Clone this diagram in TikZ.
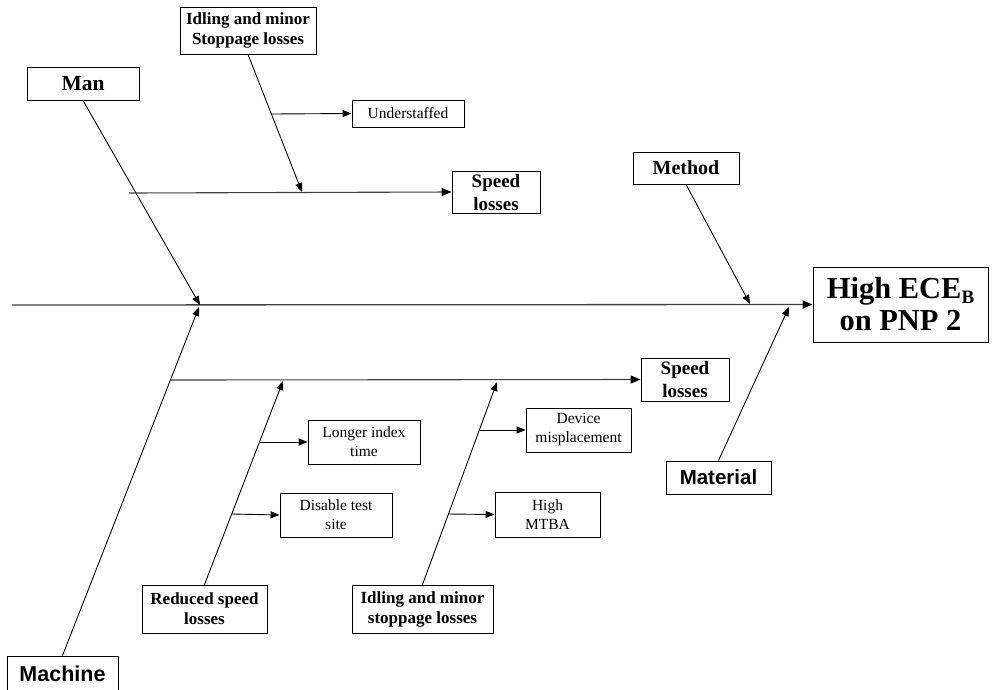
\documentclass[tikz,border=0pt]{standalone}
\usepackage{fontspec}
\setmainfont{Liberation Serif}
\newfontfamily\arialfont{Liberation Sans}
\usetikzlibrary{arrows.meta}

\tikzset{
  box/.style={draw=black, line width=0.9pt, fill=white, inner sep=0pt, align=center},
  serifbold/.style={font=\bfseries\fontsize{17}{20}\selectfont},
  small/.style={font=\fontsize{15.5}{19}\selectfont},
  sansbold/.style={font=\arialfont\bfseries\fontsize{20.5}{24}\selectfont},
  bone/.style={line width=0.9pt, -{Triangle[length=9pt,width=7pt]}},
  spine/.style={draw=black!75, line width=1.3pt, -{Triangle[length=10pt,width=8pt,color=black]}},
  twig/.style={line width=0.9pt, -{Triangle[length=9pt,width=7pt]}}
}

\begin{document}
\begin{tikzpicture}[x=1pt, y=-1pt]
\useasboundingbox (0,0) rectangle (995,689);

% effect box
\node[box, minimum width=175pt, minimum height=75pt,
      font=\bfseries\fontsize{30.5}{32}\selectfont] (effect) at (900.5,304.5)
  {High ECE\raisebox{-0.3ex}{\fontsize{19}{19}\selectfont B}\\on PNP 2};

% main category boxes
\node[box, minimum width=112pt, minimum height=33pt, font=\bfseries\fontsize{21.5}{24}\selectfont] (man) at (83,83.5) {Man};
\node[box, minimum width=106pt, minimum height=32pt, font=\bfseries\fontsize{20}{24}\selectfont] (method) at (686,168) {Method};
\node[box, sansbold, minimum width=105pt, minimum height=33pt] (material) at (718.5,477.5) {Material};
\node[box, minimum width=111pt, minimum height=35pt, font=\arialfont\bfseries\fontsize{21.5}{24}\selectfont] (machine) at (62.5,673.5) {Machine};

% sub-cause boxes
\node[box, serifbold, minimum width=136pt, minimum height=47pt] (idleTop) at (248,30.5) {Idling and minor\\Stoppage losses};
\node[box, small, minimum width=112pt, minimum height=27pt] (under) at (408,113.5) {Understaffed};
\node[box, minimum width=88pt, minimum height=42pt, font=\bfseries\fontsize{19}{23}\selectfont] (speedTop) at (496,192) {Speed\\losses};
\node[box, minimum width=88pt, minimum height=43pt, font=\bfseries\fontsize{19}{23}\selectfont] (speedBot) at (685,379.5) {Speed\\losses};
\node[box, serifbold, minimum width=125pt, minimum height=48pt] (reduced) at (204.5,609) {Reduced speed\\losses};
\node[box, serifbold, minimum width=141pt, minimum height=48pt] (idleBot) at (422.5,609) {Idling and minor\\stoppage losses};
\node[box, small, minimum width=112pt, minimum height=44pt] (longer) at (364,442) {Longer index\\time};
\node[box, small, minimum width=112pt, minimum height=44pt] (disable) at (336,515) {Disable test\\site};
\node[box, small, minimum width=105pt, minimum height=44pt] (device) at (578.5,430) {Device\\misplacement};
\node[box, small, minimum width=105pt, minimum height=45pt] (mtba) at (547.5,514.5) {High\\MTBA};

% junction points
\coordinate (tail) at (12,305);
\coordinate (manHit) at (200,305);
\coordinate (machHit) at (199,307);
\coordinate (methodHit) at (750,304);
\coordinate (matHit) at (789,307);
\coordinate (topStart) at (129,193);
\coordinate (botStart) at (170,380);
\coordinate (idleTopHit) at (302,192);
\coordinate (underFork) at (272,114);
\coordinate (reducedHit) at (283,381);
\coordinate (longerFork) at (260,442);
\coordinate (disableFork) at (232,514);
\coordinate (idleBotHit) at (497,382);
\coordinate (deviceFork) at (480,430);
\coordinate (mtbaFork) at (448,514);

% spine
\draw[spine] (tail) -- (effect.west);

% main bones
\draw[bone] (man.south) -- (manHit);
\draw[bone] (machine.north) -- (machHit);
\draw[bone] (method.south) -- (methodHit);
\draw[bone] (material.north) -- (matHit);

% secondary bones
\draw[spine, line width=1.1pt] (topStart) -- (speedTop.west);
\draw[spine, line width=1.1pt] (botStart) -- (speedBot.west);
\draw[bone] (idleTop.south) -- (idleTopHit);
\draw[bone] (reduced.north) -- (reducedHit);
\draw[bone] (idleBot.north) -- (idleBotHit);

% causes
\draw[twig] (underFork) -- (under.west);
\draw[twig] (longerFork) -- (longer.west);
\draw[twig] (disableFork) -- (disable.west);
\draw[twig] (deviceFork) -- (device.west);
\draw[twig] (mtbaFork) -- (mtba.west);
\end{tikzpicture}
\end{document}
